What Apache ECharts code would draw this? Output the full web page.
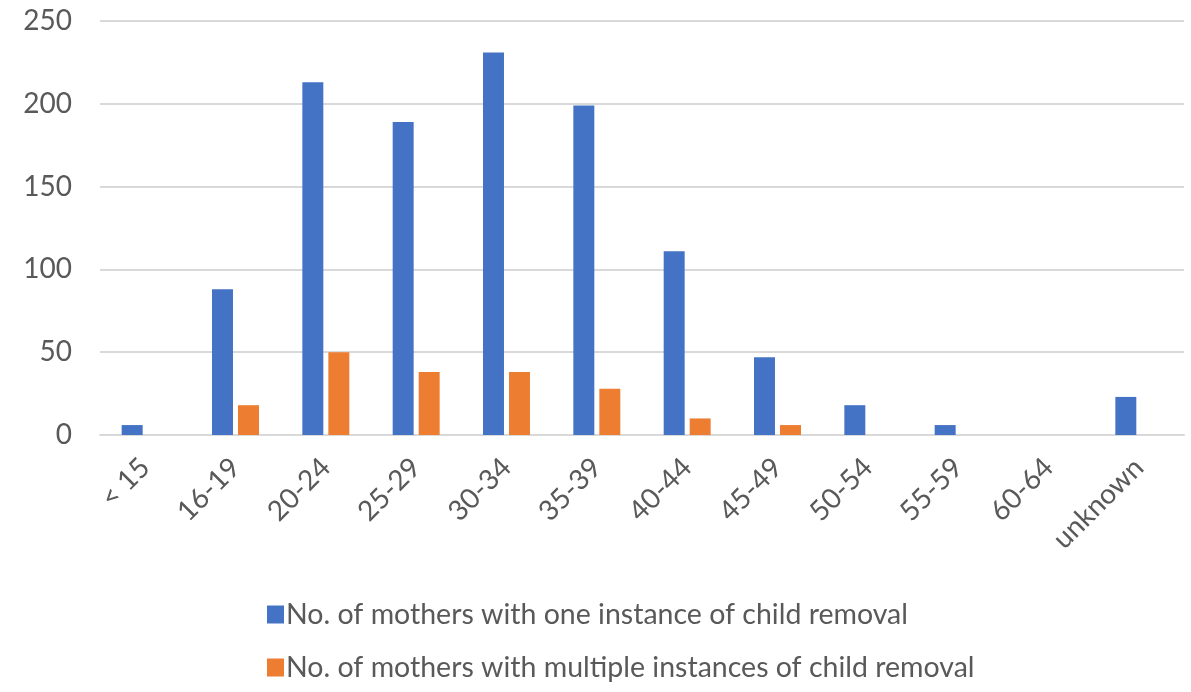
<!DOCTYPE html>
<html>
<head>
<meta charset="utf-8">
<script src="https://cdn.jsdelivr.net/npm/echarts@6/dist/echarts.min.js"></script>
<style>
  html, body { margin: 0; padding: 0; background: #ffffff; }
  #chart { width: 1191px; height: 692px; }
</style>
</head>
<body>
<div id="chart"></div>
<script>
// Age groups of mothers
const ageGroups = ['< 15', '16-19', '20-24', '25-29', '30-34', '35-39', '40-44', '45-49', '50-54', '55-59', '60-64', 'unknown'];

// Counts per age group
const oneInstance = [6, 88, 213, 189, 231, 199, 111, 47, 18, 6, 0, 23];
const multipleInstances = [0, 18, 50, 38, 38, 28, 10, 6, 0, 0, 0, 0];

const seriesNames = [
  'No. of mothers with one instance of child removal',
  'No. of mothers with multiple instances of child removal'
];

// Value axis ticks
const yMin = 0;
const yMax = 250;
const yStep = 50;

const FONT = 'Lato, "Open Sans", sans-serif';
const TEXT = '#595959';
const GRID = '#d9d9d9';

// One legend block per series, stacked vertically
function legendRow(name, top) {
  return {
    left: 262,
    top: top,
    itemWidth: 17,
    itemHeight: 18,
    icon: 'rect',
    textStyle: { fontFamily: FONT, fontSize: 28.5, color: TEXT, padding: [0, 0, 0, -3] },
    data: [name]
  };
}

const chart = echarts.init(document.getElementById('chart'), null, { renderer: 'canvas' });

chart.setOption({
  animation: false,
  backgroundColor: '#ffffff',
  grid: { left: 100, right: 7, top: 21, bottom: 257, containLabel: false },
  legend: [
    legendRow(seriesNames[0], 595),
    legendRow(seriesNames[1], 648)
  ],
  xAxis: {
    type: 'category',
    data: ageGroups,
    axisLine: { show: true, lineStyle: { color: GRID, width: 2 } },
    axisTick: { show: false },
    axisLabel: {
      rotate: 45,
      margin: 28,
      fontFamily: FONT,
      fontSize: 28,
      color: TEXT,
      interval: 0
    }
  },
  yAxis: {
    type: 'value',
    min: yMin,
    max: yMax,
    interval: yStep,
    axisLine: { show: false },
    axisTick: { show: false },
    splitLine: { lineStyle: { color: GRID, width: 2 } },
    axisLabel: { margin: 28, fontFamily: FONT, fontSize: 28, color: TEXT }
  },
  series: [
    {
      name: seriesNames[0],
      type: 'bar',
      data: oneInstance,
      barGap: '24%',
      barCategoryGap: '48%',
      itemStyle: { color: '#4472c4' }
    },
    {
      name: seriesNames[1],
      type: 'bar',
      data: multipleInstances,
      itemStyle: { color: '#ed7d31' }
    }
  ]
});
</script>
</body>
</html>
